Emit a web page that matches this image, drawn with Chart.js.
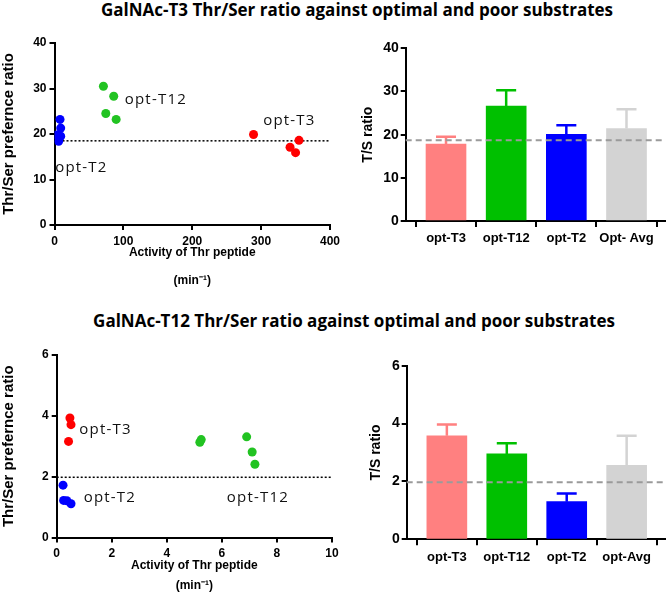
<!DOCTYPE html>
<html>
<head>
<meta charset="utf-8">
<script src="https://cdn.jsdelivr.net/npm/chart.js@4/dist/chart.umd.min.js"></script>
<style>
  body { margin: 0; width: 666px; height: 596px; overflow: hidden; background: #fff; position: relative; }
  .title { position: absolute; font-family: 'Open Sans', sans-serif; font-weight: bold; font-size: 17px;
           line-height: 17px; white-space: nowrap; transform: translateX(-50%); color: #000; }
  canvas { position: absolute; }
</style>
</head>
<body>
<div class="title" style="left:357px; top:1px">GalNAc-T3 Thr/Ser ratio against optimal and poor substrates</div>
<div class="title" style="left:354px; top:312px">GalNAc-T12 Thr/Ser ratio against optimal and poor substrates</div>
<canvas id="t3Scatter" width="345" height="272" style="left:0; top:30px"></canvas>
<canvas id="t3Bars" width="326" height="266" style="left:340px; top:30px"></canvas>
<canvas id="t12Scatter" width="345" height="266" style="left:0; top:330px"></canvas>
<canvas id="t12Bars" width="326" height="266" style="left:340px; top:330px"></canvas>
<script>
// GalNAc-T3 scatter: [activity, Thr/Ser ratio]
const t3_optT2 = [[8, 23.2], [9, 21.3], [2.5, 19.8], [9, 19.5], [6, 18.4]];
const t3_optT12 = [[71, 30.5], [86, 28.3], [74.5, 24.5], [89.5, 23.2]];
const t3_optT3 = [[289, 19.9], [342, 17.1], [350, 15.9], [355, 18.6]];
const t3_refRatio = 18.5;

// GalNAc-T12 scatter
const t12_optT3 = [[0.48, 3.93], [0.52, 3.71], [0.43, 3.16]];
const t12_optT12 = [[5.2, 3.13], [5.25, 3.22], [6.9, 3.31], [7.1, 2.81], [7.2, 2.41]];
const t12_optT2 = [[0.23, 1.72], [0.25, 1.22], [0.37, 1.21], [0.52, 1.11]];
const t12_refRatio = 1.98;

// bar panels
const t3BarLabels = ['opt-T3', 'opt-T12', 'opt-T2', 'Opt- Avg'];
const t3BarValues = [17.8, 26.6, 20.1, 21.4];
const t3BarErrors = [1.7, 3.7, 2.1, 4.5];
const t3BarRef = 18.7;

const t12BarLabels = ['opt-T3', 'opt-T12', 'opt-T2', 'opt-Avg'];
const t12BarValues = [3.58, 2.95, 1.30, 2.56];
const t12BarErrors = [0.39, 0.37, 0.28, 1.02];
const t12BarRef = 1.97;

const red = '#ff0000', green = '#22c322', blue = '#0000ff';
const barColors = ['#ff8080', '#00c000', '#0000ff', '#d3d3d3'];
const arial = "'Liberation Sans', Arial, sans-serif";

// text labels next to the point groups
const notes = {
    id: 'notes',
    afterDatasetsDraw(chart, args, opts) {
        const { ctx, scales: { x, y } } = chart;
        ctx.save();
        ctx.font = '15px "Open Sans"';
        ctx.letterSpacing = '1.2px';
        ctx.fillStyle = '#111';
        ctx.textBaseline = 'middle';
        (opts.items || []).forEach(n => {
            ctx.fillText(n.text, x.getPixelForValue(n.x), y.getPixelForValue(n.y));
        });
        ctx.restore();
    }
};

// horizontal reference line
function drawRef(chart, opts) {
    const { ctx, chartArea, scales: { y } } = chart;
    const py = y.getPixelForValue(opts.value);
    ctx.save();
    ctx.strokeStyle = opts.color;
    ctx.lineWidth = opts.width;
    ctx.setLineDash(opts.dash);
    ctx.beginPath();
    ctx.moveTo(chartArea.left, py);
    ctx.lineTo(chartArea.right, py);
    ctx.stroke();
    ctx.restore();
}
const refLine = {
    id: 'refLine',
    beforeDatasetsDraw(chart, args, opts) { if (!opts.front) drawRef(chart, opts); },
    afterDatasetsDraw(chart, args, opts) { if (opts.front) drawRef(chart, opts); }
};

// upward error bars, same colour as the bar
const errorBars = {
    id: 'errorBars',
    afterDatasetsDraw(chart, args, opts) {
        const { ctx, scales: { y } } = chart;
        const ds = chart.data.datasets[0];
        ctx.save();
        ctx.lineWidth = 2.5;
        chart.getDatasetMeta(0).data.forEach((bar, i) => {
            const top = y.getPixelForValue(ds.data[i].y + opts.errors[i]);
            ctx.strokeStyle = ds.backgroundColor[i];
            ctx.beginPath();
            ctx.moveTo(bar.x, bar.y);
            ctx.lineTo(bar.x, top);
            ctx.moveTo(bar.x - 10, top);
            ctx.lineTo(bar.x + 10, top);
            ctx.stroke();
        });
        ctx.restore();
    }
};

function axisGrid(len) {
    return { drawOnChartArea: false, color: '#000', lineWidth: 2, tickLength: len };
}

function scatterChart(id, groups, s) {
    new Chart(document.getElementById(id), {
        type: 'scatter',
        data: {
            datasets: groups.map(g => ({
                data: g.pts.map(p => ({ x: p[0], y: p[1] })),
                backgroundColor: g.color,
                borderWidth: 0,
                pointRadius: 4.5,
                pointHoverRadius: 4.5
            }))
        },
        options: {
            responsive: false,
            animation: false,
            layout: { padding: s.padding, autoPadding: false },
            scales: {
                x: {
                    type: 'linear', min: 0, max: s.xMax,
                    ticks: { stepSize: s.xStep, color: '#000', padding: s.xTickPad, maxRotation: 0,
                             font: { family: arial, weight: 'bold', size: 12 } },
                    grid: axisGrid(5),
                    border: { color: '#000', width: 2 },
                    title: { display: true, text: ['Activity of Thr peptide', '(min\u207B\u00B9)'], color: '#000',
                             font: { family: arial, weight: 'bold', size: 12, lineHeight: s.titleLine },
                             padding: { top: 0, bottom: s.titlePad } },
                    afterFit: sc => { sc.height = s.xHeight; }
                },
                y: {
                    min: 0, max: s.yMax,
                    ticks: { stepSize: s.yStep, color: '#000', padding: 3,
                             font: { family: arial, weight: 'bold', size: 12 } },
                    grid: axisGrid(5),
                    border: { color: '#000', width: 2 },
                    title: { display: true, text: 'Thr/Ser prefernce ratio', color: '#000',
                             font: { family: arial, weight: 'bold', size: 15 }, padding: { top: 0 } },
                    afterFit: sc => { sc.width = s.yWidth; }
                }
            },
            plugins: {
                legend: { display: false },
                tooltip: { enabled: false },
                notes: { items: s.notes },
                refLine: { value: s.ref, color: '#000', width: 1.5, dash: [2, 2], front: false }
            }
        },
        plugins: [refLine, notes]
    });
}

function barChart(id, labels, values, errors, ref, s) {
    new Chart(document.getElementById(id), {
        type: 'bar',
        data: {
            datasets: [{
                data: values.map((v, i) => ({ x: i, y: v })),
                backgroundColor: barColors,
                borderWidth: 0,
                barThickness: 40
            }]
        },
        options: {
            responsive: false,
            animation: false,
            layout: { padding: s.padding, autoPadding: false },
            scales: {
                x: {
                    type: 'linear', min: -0.67, max: 3.64, offset: false,
                    afterBuildTicks: sc => { sc.ticks = labels.map((l, i) => ({ value: i })); },
                    ticks: { color: '#000', padding: 4, maxRotation: 0, autoSkip: false,
                             callback: v => labels[v],
                             font: { family: arial, weight: 'bold', size: 13 } },
                    grid: axisGrid(6),
                    border: { color: '#000', width: 2 },
                    afterFit: sc => { sc.height = s.xHeight; }
                },
                y: {
                    min: 0, max: s.yMax,
                    ticks: { stepSize: s.yStep, color: '#000', padding: 2,
                             font: { family: arial, weight: 'bold', size: 14 } },
                    grid: axisGrid(5),
                    border: { color: '#000', width: 2 },
                    title: { display: true, text: 'T/S ratio', color: '#000',
                             font: { family: arial, weight: 'bold', size: 14 }, padding: { top: s.yTitlePad } },
                    afterFit: sc => { sc.width = s.yWidth; }
                }
            },
            plugins: {
                legend: { display: false },
                tooltip: { enabled: false },
                errorBars: { errors: errors },
                refLine: { value: ref, color: '#9a9a9a', width: 2, dash: [6, 4], front: true }
            }
        },
        plugins: [errorBars, refLine]
    });
}

scatterChart('t3Scatter', [
    { pts: t3_optT2, color: blue },
    { pts: t3_optT12, color: green },
    { pts: t3_optT3, color: red }
], {
    xMax: 400, xStep: 100, yMax: 40, yStep: 10, ref: t3_refRatio,
    padding: { top: 13, right: 15, bottom: 0, left: 0 },
    xHeight: 77, yWidth: 54.5, xTickPad: 4, titleLine: 28 / 12, titlePad: 7,
    notes: [
        { text: 'opt-T12', x: 102, y: 27.6 },
        { text: 'opt-T3', x: 303, y: 23 },
        { text: 'opt-T2', x: 1, y: 12.6 }
    ]
});

barChart('t3Bars', t3BarLabels, t3BarValues, t3BarErrors, t3BarRef, {
    yMax: 40, yStep: 10, padding: { top: 18.3, right: 1, bottom: 0, left: 0 },
    xHeight: 75, yWidth: 65.7, yTitlePad: 19.6
});

scatterChart('t12Scatter', [
    { pts: t12_optT3, color: red },
    { pts: t12_optT12, color: green },
    { pts: t12_optT2, color: blue }
], {
    xMax: 10, xStep: 2, yMax: 6, yStep: 2, ref: t12_refRatio,
    padding: { top: 25, right: 13, bottom: 0, left: 0 },
    xHeight: 58.5, yWidth: 56.7, xTickPad: 4, titleLine: 1.7, titlePad: 0,
    notes: [
        { text: 'opt-T3', x: 0.82, y: 3.55 },
        { text: 'opt-T2', x: 0.98, y: 1.31 },
        { text: 'opt-T12', x: 6.18, y: 1.3 }
    ]
});

barChart('t12Bars', t12BarLabels, t12BarValues, t12BarErrors, t12BarRef, {
    yMax: 6, yStep: 2, padding: { top: 35.7, right: 1, bottom: 0, left: 0 },
    xHeight: 56.7, yWidth: 66.7, yTitlePad: 27.6
});
</script>
</body>
</html>
